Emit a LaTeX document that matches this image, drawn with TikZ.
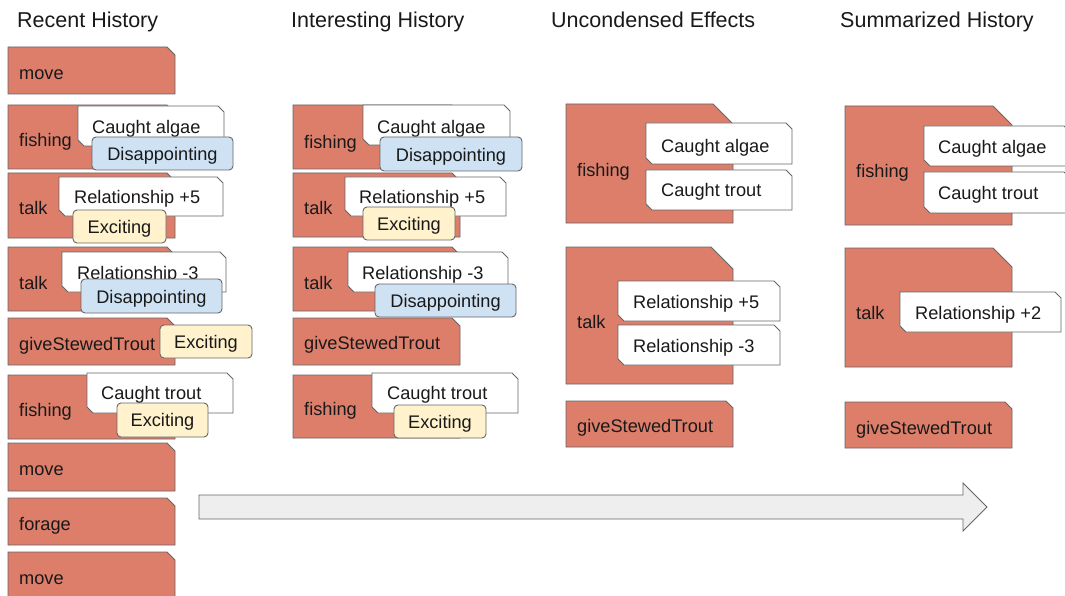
\documentclass[tikz,border=0pt]{standalone}
\usepackage{fontspec}
\setmainfont{Liberation Sans}
\definecolor{actred}{HTML}{DD7E6B}
\definecolor{edgegray}{HTML}{666666}
\definecolor{tagblue}{HTML}{CFE2F3}
\definecolor{tagyellow}{HTML}{FFF2CC}
\definecolor{arrowfill}{HTML}{EEEEEE}

% action block: rectangle with the top-right corner snipped
% #1 x1, #2 y1, #3 x2, #4 y2, #5 snip size
\newcommand\actbox[5]{%
  \draw[actshape] (#1,#2) -- ({#3-#5},#2) -- (#3,{#2+#5}) -- (#3,#4) -- (#1,#4) -- cycle;}
% effect note: top-right and bottom-left corners snipped
\newcommand\effbox[4]{%
  \draw[effshape] (#1,#2) -- ({#3-6},#2) -- (#3,{#2+6}) -- (#3,#4) -- ({#1+6},#4) -- (#1,{#4-6}) -- cycle;}

\begin{document}
\begin{tikzpicture}[x=1pt,y=-1pt,
  actshape/.style={fill=actred,draw=edgegray,line width=0.9pt,line join=miter},
  effshape/.style={fill=white,draw=edgegray,line width=0.9pt},
  tagshape/.style={draw=edgegray,line width=0.9pt,rounded corners=4pt},
  blue tag/.style={tagshape,fill=tagblue},
  yellow tag/.style={tagshape,fill=tagyellow},
  txt/.style={font=\fontsize{18.2}{21}\selectfont,inner sep=0pt,anchor=west,
    text height=15pt,text depth=1.5pt,text=black!90},
  ctxt/.style={txt,anchor=center},
  title/.style={font=\fontsize{21.5}{24}\selectfont,inner sep=0pt,anchor=west,
    text height=17pt,text depth=2pt,text=black!90}]
\clip (0,0) rectangle (1065,596);

% ---------- column titles ----------
\node[title] (t1) at (17,20) {Recent History};
\node[title] (t2) at (291,20) {Interesting History};
\node[title] (t3) at (551,20) {Uncondensed Effects};
\node[title] (t4) at (840,20) {Summarized History};

% ---------- Recent History ----------
\actbox{8}{47}{175}{94}{8}
\node[txt] (r1) at (19,73) {move};

\actbox{8}{105}{175}{169}{8}
\node[txt] (r2) at (19,140) {fishing};
\effbox{78}{106}{224}{146}
\node[txt] (r2e) at (92,127) {Caught algae};
\draw[blue tag] (92,137) rectangle (233,170);
\node[ctxt] (r2t) at (162.5,154) {Disappointing};

\actbox{8}{173}{175}{238}{8}
\node[txt] (r3) at (19,208) {talk};
\effbox{59}{177}{223}{216}
\node[txt] (r3e) at (74,197) {Relationship +5};
\draw[yellow tag] (73,210) rectangle (166,243);
\node[ctxt] (r3t) at (119.5,227) {Exciting};

\actbox{8}{247}{175}{311}{8}
\node[txt] (r4) at (19,283) {talk};
\effbox{62}{252}{226}{292}
\node[txt] (r4e) at (77,273) {Relationship -3};
\draw[blue tag] (81,279) rectangle (222,313);
\node[ctxt] (r4t) at (151.5,297) {Disappointing};

\actbox{8}{318}{175}{365}{8}
\node[txt] (r5) at (19,344) {giveStewedTrout};
\draw[yellow tag] (160,325) rectangle (252,358);
\node[ctxt] (r5t) at (206,342) {Exciting};

\actbox{8}{375}{175}{439}{8}
\node[txt] (r6) at (19,410) {fishing};
\effbox{87}{373}{233}{413}
\node[txt] (r6e) at (101,393) {Caught trout};
\draw[yellow tag] (117,403) rectangle (208,437);
\node[ctxt] (r6t) at (162.5,420) {Exciting};

\actbox{8}{443}{175}{491}{8}
\node[txt] (r7) at (19,469) {move};

\actbox{8}{498}{175}{545}{8}
\node[txt] (r8) at (19,524) {forage};

\actbox{8}{552}{175}{610}{8}
\node[txt] (r9) at (19,578) {move};

% ---------- Interesting History ----------
\actbox{293}{105}{460}{169}{8}
\node[txt] (i1) at (304,142) {fishing};
\effbox{363}{105}{510}{145}
\node[txt] (i1e) at (377,127) {Caught algae};
\draw[blue tag] (380,137) rectangle (522,171);
\node[ctxt] (i1t) at (451,155) {Disappointing};

\actbox{293}{173}{460}{237}{8}
\node[txt] (i2) at (304,208) {talk};
\effbox{345}{177}{506}{216}
\node[txt] (i2e) at (359,197) {Relationship +5};
\draw[yellow tag] (363,207) rectangle (455,240);
\node[ctxt] (i2t) at (409,224) {Exciting};

\actbox{293}{247}{460}{311}{8}
\node[txt] (i3) at (304,283) {talk};
\effbox{348}{252}{508}{292}
\node[txt] (i3e) at (362,273) {Relationship -3};
\draw[blue tag] (375,284) rectangle (516,317);
\node[ctxt] (i3t) at (445.5,301) {Disappointing};

\actbox{293}{318}{460}{365}{8}
\node[txt] (i4) at (304,343) {giveStewedTrout};

\actbox{293}{375}{460}{438}{8}
\node[txt] (i5) at (304,409) {fishing};
\effbox{372}{373}{518}{413}
\node[txt] (i5e) at (387,393) {Caught trout};
\draw[yellow tag] (394,405) rectangle (486,438);
\node[ctxt] (i5t) at (440,422) {Exciting};

% ---------- Uncondensed Effects ----------
\actbox{566}{104}{733}{223}{20}
\node[txt] (u1) at (577,170) {fishing};
\effbox{646}{123}{792}{164}
\node[txt] (u1a) at (661,146) {Caught algae};
\effbox{646}{170}{792}{210}
\node[txt] (u1b) at (661,190) {Caught trout};

\actbox{566}{247}{733}{384}{22}
\node[txt] (u2) at (577,322) {talk};
\effbox{618}{281}{780}{321}
\node[txt] (u2a) at (633,302) {Relationship +5};
\effbox{618}{325}{780}{365}
\node[txt] (u2b) at (633,346) {Relationship -3};

\actbox{566}{401}{733}{447}{7}
\node[txt] (u3) at (577,426) {giveStewedTrout};

% ---------- Summarized History ----------
\actbox{845}{106}{1012}{225}{19}
\node[txt] (s1) at (856,171) {fishing};
\effbox{924}{126}{1070}{166}
\node[txt] (s1a) at (938,147) {Caught algae};
\effbox{924}{172}{1070}{213}
\node[txt] (s1b) at (938,193) {Caught trout};

\actbox{845}{248}{1012}{367}{19}
\node[txt] (s2) at (856,313) {talk};
\effbox{900}{292}{1061}{332}
\node[txt] (s2a) at (915,313) {Relationship +2};

\actbox{845}{402}{1012}{448}{7}
\node[txt] (s3) at (856,428) {giveStewedTrout};

% ---------- progression arrow ----------
\draw[fill=arrowfill,draw=edgegray,line width=0.9pt]
  (199,495) -- (963,495) -- (963,483) -- (987,507) -- (963,531) -- (963,519) -- (199,519) -- cycle;
\end{tikzpicture}
\end{document}
